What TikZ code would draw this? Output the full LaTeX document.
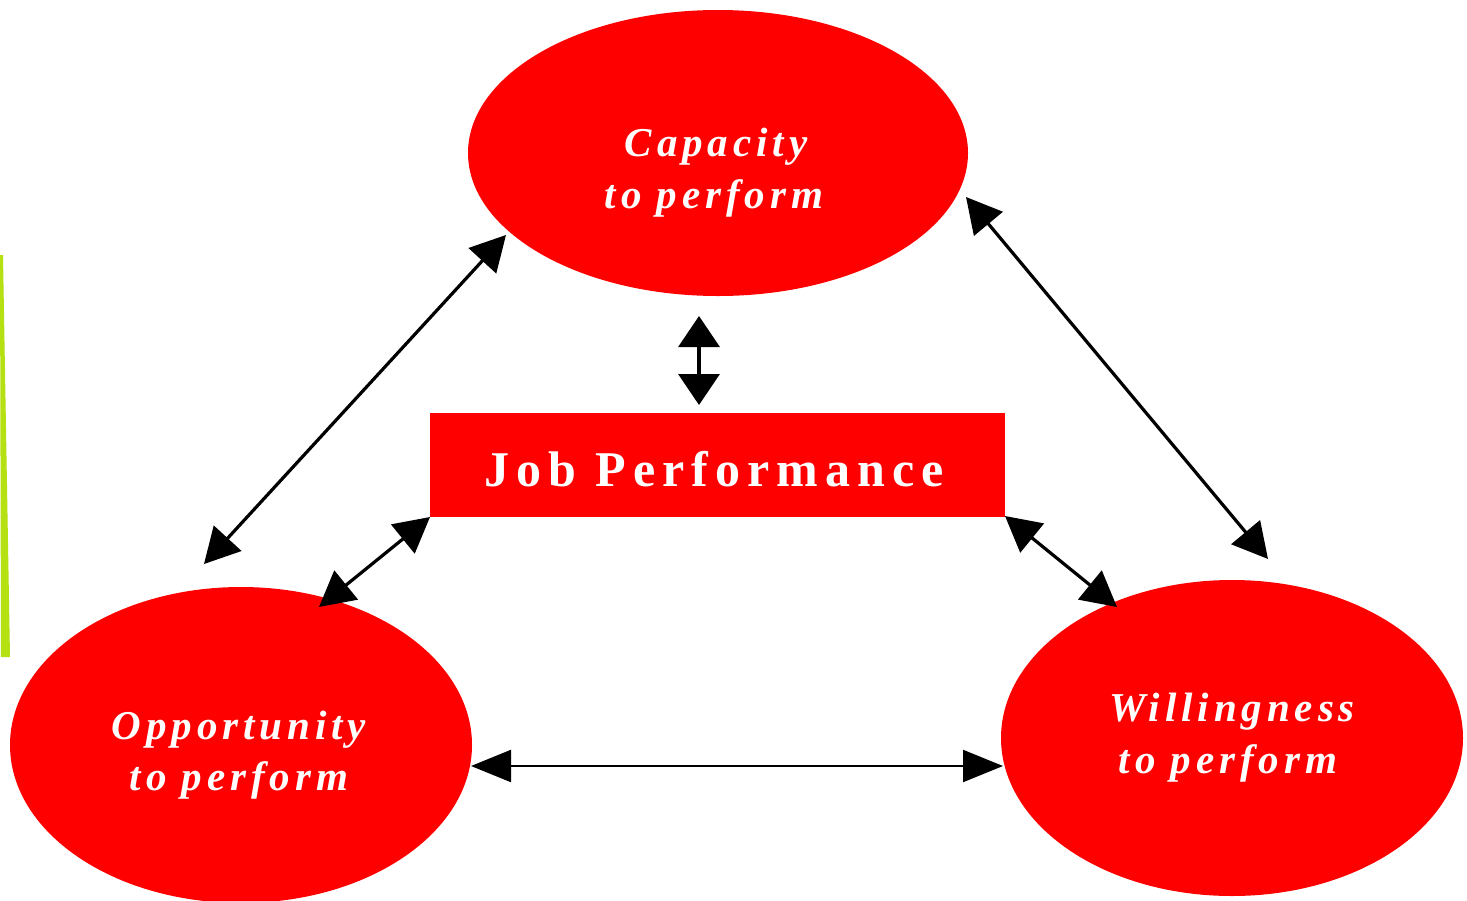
\documentclass[tikz,border=0pt]{standalone}
\usepackage{fontspec}
\setmainfont{Liberation Serif}
\newfontfamily\ovalfont[LetterSpace=12]{Liberation Serif}
\newfontfamily\boxfont[LetterSpace=14]{Liberation Serif}
\usetikzlibrary{shapes.geometric,arrows.meta}
\definecolor{redfill}{RGB}{255,0,0}
\definecolor{limeedge}{RGB}{181,224,18}
\tikzset{
  oval/.style={ellipse, fill=redfill, draw=none, inner sep=0pt},
  ovaltext/.style={anchor=base, text=white, inner sep=0pt,
    font=\ovalfont\bfseries\itshape\fontsize{41}{50}\selectfont},
  boxtext/.style={anchor=base, text=white, inner sep=0pt,
    font=\boxfont\bfseries\fontsize{50}{60}\selectfont},
  link/.style={line width=3.2pt, {Triangle[length=35pt,width=37pt]}-{Triangle[length=35pt,width=37pt]}},
  stub/.style={line width=3.5pt, {Triangle[length=31pt,width=41pt]}-{Triangle[length=31pt,width=41pt]}},
  base link/.style={line width=2.2pt, {Triangle[length=40pt,width=32pt]}-{Triangle[length=40pt,width=32pt]}},
}
\begin{document}
\begin{tikzpicture}[x=1pt,y=-1pt]
\useasboundingbox (0,0) rectangle (1467,900);
\fill[white] (0,0) rectangle (1467,900);

% tapered lime stroke along the left edge
\fill[limeedge] (0,255) -- (3,255) -- (10,657) -- (1,657) -- cycle;

% the three ovals
\node[oval, minimum width=500pt, minimum height=286pt] (cap) at (718,153) {};
\node[oval, minimum width=462pt, minimum height=316pt] (opp) at (241,745) {};
\node[oval, minimum width=462pt, minimum height=316pt] (will) at (1232,738) {};

% central box
\node[fill=redfill, minimum width=575pt, minimum height=104pt, inner sep=0pt] (job) at (717.5,465) {};

% labels
\node[ovaltext] (capA) at (716,156) {Capacity};
\node[ovaltext] (capB) at (714,208) {to perform};
\node[ovaltext] (oppA) at (239,739) {Opportunity};
\node[ovaltext] (oppB) at (239,790) {to perform};
\node[ovaltext] (willA) at (1232,721) {Willingness};
\node[ovaltext] (willB) at (1228,773) {to perform};
\node[boxtext] (jobT) at (714,486) {Job Performance};

% connector end points
\coordinate (capSW) at (506,235);
\coordinate (oppN)  at (204,564);
\coordinate (capSE) at (966,197);
\coordinate (willN) at (1268,559);
\coordinate (capS)  at (699,316);
\coordinate (jobN)  at (699,405);
\coordinate (jobSW) at (430,517);
\coordinate (oppNE) at (319,607);
\coordinate (jobSE) at (1005,516);
\coordinate (willNW) at (1117,607);
\coordinate (oppE)  at (471,766);
\coordinate (willW) at (1003,766);

% connectors
\draw[link] (capSW) -- (oppN);
\draw[link] (capSE) -- (willN);
\draw[stub] (capS) -- (jobN);
\draw[link] (jobSW) -- (oppNE);
\draw[link] (jobSE) -- (willNW);
\draw[base link] (oppE) -- (willW);
\end{tikzpicture}
\end{document}
